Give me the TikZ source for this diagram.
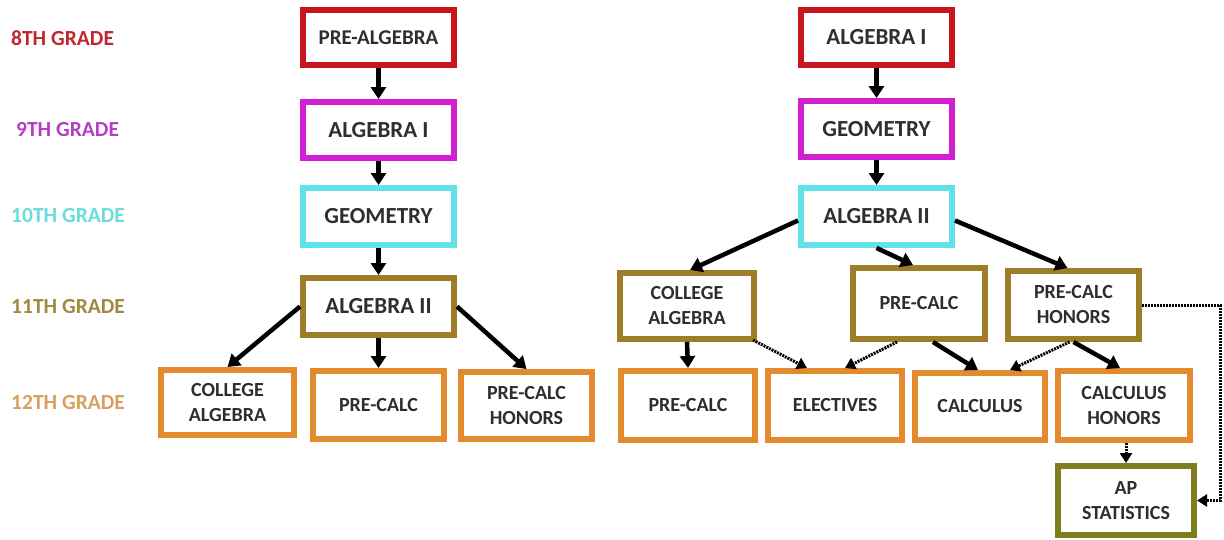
\documentclass[tikz,border=0pt]{standalone}
\usepackage{fontspec}
\setmainfont{Carlito}
\usetikzlibrary{arrows.meta,calc}
\definecolor{cred}{HTML}{C8161E}
\definecolor{cmag}{HTML}{D21FD2}
\definecolor{ccyan}{HTML}{5FE3E8}
\definecolor{colive}{HTML}{9E7C28}
\definecolor{corange}{HTML}{E38A2E}
\definecolor{cgreen}{HTML}{7E7E1E}
\definecolor{tgray}{HTML}{2E2E2E}
\definecolor{lred}{HTML}{C0282F}
\definecolor{lmag}{HTML}{B440C0}
\definecolor{lcyan}{HTML}{6ADCDC}
\definecolor{lolive}{HTML}{A08A40}
\definecolor{lorange}{HTML}{D8A060}
\tikzset{
  box/.style={draw, line width=6pt, fill=white, align=center, text=tgray, inner sep=0pt},
  big/.style={font=\fontsize{23}{27}\selectfont\bfseries},
  small/.style={font=\fontsize{20}{25}\selectfont\bfseries},
  grade/.style={anchor=west, font=\fontsize{21.5}{25}\selectfont\bfseries, inner sep=0pt},
  solidarrow/.style={line width=4.5pt, -{Triangle[length=12pt,width=15pt]}},
  dotarrow/.style={line width=3pt, dash pattern=on 2pt off 1pt, -{Triangle[length=10pt,width=12pt]}}
}
\begin{document}
\begin{tikzpicture}[x=1pt,y=-1pt]
\useasboundingbox (0,0) rectangle (1224,539);
% grade labels
\node[grade, text=lred] (g8) at (11,38) {8TH GRADE};
\node[grade, text=lmag] (g9) at (16,130) {9TH GRADE};
\node[grade, text=lcyan] (g10) at (11,216) {10TH GRADE};
\node[grade, text=lolive] (g11) at (11,307) {11TH GRADE};
\node[grade, text=lorange] (g12) at (11,403) {12TH GRADE};
% left column
\node[box, big, draw=cred, minimum width=151, minimum height=55, font=\fontsize{21}{25}\selectfont\bfseries] (L1) at (378.5,37.5) {PRE-ALGEBRA};
\node[box, big, draw=cmag, minimum width=151, minimum height=56] (L2) at (378.5,130) {ALGEBRA I};
\node[box, big, draw=ccyan, minimum width=151, minimum height=57] (L3) at (378.5,216.5) {GEOMETRY};
\node[box, big, draw=colive, minimum width=151, minimum height=57] (L4) at (378.5,306.5) {ALGEBRA II};
\node[box, small, draw=corange, minimum width=133, minimum height=65] (L5) at (227.5,402.5) {COLLEGE\\ALGEBRA};
\node[box, small, draw=corange, minimum width=131, minimum height=68] (L6) at (378.5,405) {PRE-CALC};
\node[box, small, draw=corange, minimum width=131, minimum height=67] (L7) at (526.5,405.5) {PRE-CALC\\HONORS};
% right column
\node[box, big, draw=cred, minimum width=151, minimum height=55] (R1) at (876.5,37.5) {ALGEBRA I};
\node[box, big, draw=cmag, minimum width=151, minimum height=56] (R2) at (876.5,129) {GEOMETRY};
\node[box, big, draw=ccyan, minimum width=151, minimum height=57] (R3) at (876.5,216.5) {ALGEBRA II};
\node[box, small, draw=colive, minimum width=134, minimum height=66] (R4) at (687,306) {COLLEGE\\ALGEBRA};
\node[box, small, draw=colive, minimum width=132, minimum height=71] (R5) at (919,303.5) {PRE-CALC};
\node[box, small, draw=colive, minimum width=131, minimum height=68] (R6) at (1073.5,305) {PRE-CALC\\HONORS};
\node[box, small, draw=corange, minimum width=134, minimum height=69] (R7) at (688,405.5) {PRE-CALC};
\node[box, small, draw=corange, minimum width=134, minimum height=69] (R8) at (835,405.5) {ELECTIVES};
\node[box, small, draw=corange, minimum width=130, minimum height=67] (R9) at (980,406.5) {CALCULUS};
\node[box, small, draw=corange, minimum width=132, minimum height=69] (R10) at (1124,405.5) {CALCULUS\\HONORS};
\node[box, small, draw=cgreen, minimum width=136, minimum height=69] (R11) at (1126,500.5) {AP\\STATISTICS};
\coordinate (ch) at ($(R10.south)+(2,0)$);
% left connectors
\draw[solidarrow] (L1.south) -- (L2.north);
\draw[solidarrow] (L2.south) -- (L3.north);
\draw[solidarrow] (L3.south) -- (L4.north);
\draw[solidarrow] (L4.west) -- (L5.north);
\draw[solidarrow] (L4.south) -- (L6.north);
\draw[solidarrow] (L4.east) -- (L7.north);
% right connectors
\draw[solidarrow] (R1.south) -- (R2.north);
\draw[solidarrow] (R2.south) -- (R3.north);
\draw[solidarrow] ($(R3.west)+(0,4)$) -- ($(R4.north)+(3,0)$);
\draw[solidarrow] (R3.south) -- ($(R5.north)+(-6,0)$);
\draw[solidarrow] ($(R3.east)+(0,4)$) -- ($(R6.north)+(-6,0)$);
\draw[solidarrow] (R4.south) -- (R7.north);
\draw[dotarrow] ($(R4.south east)+(-4,-2)$) -- ($(R8.north)+(-28,0)$);
\draw[dotarrow] ($(R5.south)+(-22,0)$) -- ($(R8.north)+(10,0)$);
\draw[solidarrow] ($(R5.south)+(14,0)$) -- ($(R9.north)+(-2,0)$);
\draw[dotarrow] ($(R6.south)+(-4,0)$) -- ($(R9.north)+(30,0)$);
\draw[solidarrow] (R6.south) -- ($(R10.north)+(-4,0)$);
\draw[dotarrow] (ch) -- (ch |- R11.north);
\draw[dotarrow] (R6.east) -- ++(78,0) |- (R11.east);
\end{tikzpicture}
\end{document}
